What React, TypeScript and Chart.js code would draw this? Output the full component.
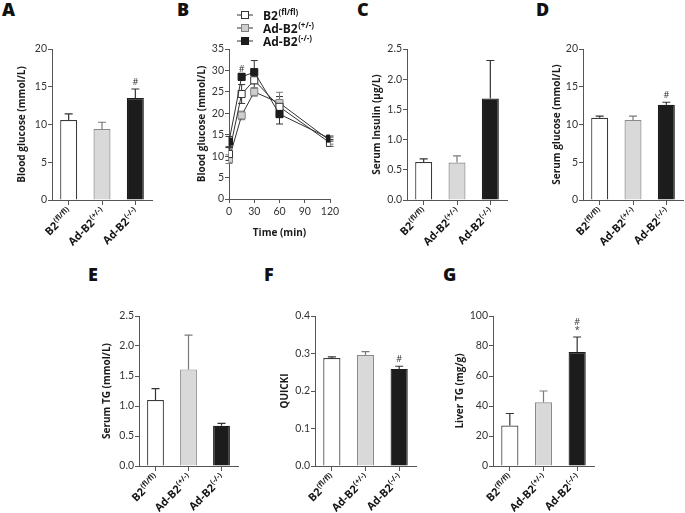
import React, { useEffect, useRef } from 'react';
import { Chart, registerables } from 'chart.js';
Chart.register(...registerables);

// ---------- data ----------
const groupNames = ['B2', 'Ad-B2', 'Ad-B2'];
const groupSups = ['(fl/fl)', '(+/-)', '(-/-)'];

const bloodGlucose = [10.6, 9.4, 13.5];
const bloodGlucoseErr = [0.8, 0.9, 1.2];
const serumInsulin = [0.63, 0.62, 1.68];
const serumInsulinErr = [0.05, 0.11, 0.63];
const serumGlucose = [10.9, 10.6, 12.6];
const serumGlucoseErr = [0.2, 0.5, 0.35];
const serumTG = [1.10, 1.61, 0.67];
const serumTGErr = [0.19, 0.57, 0.04];
const quicki = [0.288, 0.296, 0.259];
const quickiErr = [0.003, 0.009, 0.007];
const liverTG = [27, 42.5, 76];
const liverTGErr = [8, 7.5, 10];

const timePoints = [0, 15, 30, 60, 120];
const gttFlfl = [10.5, 24.5, 27.7, 21.5, 13.1];
const gttFlflErr = [1.5, 2.2, 2.0, 2.4, 0.8];
const gttHet = [9.3, 19.5, 25.0, 22.4, 13.6];
const gttHetErr = [1.0, 1.0, 1.0, 2.5, 0.8];
const gttKo = [13.4, 28.5, 29.6, 19.8, 14.1];
const gttKoErr = [1.2, 0.8, 2.7, 2.3, 0.6];
const gttTimeTicks = [0, 30, 60, 90, 120];

// ---------- style ----------
const FILLS = ['#ffffff', '#d9d9d9', '#1c1c1c'];
const EDGES = ['#3a3a3a', '#8a8a8a', '#1c1c1c'];
const AXIS = '#555555';
const TICKFONT = { family: 'Lato', size: 10.5 };
const BOLDFAM = '"Open Sans"';
const TITLEFONT = { family: 'Open Sans', weight: 'bold', size: 10 };

const YW = 55;

function measureSup(ctx: CanvasRenderingContext2D, main: string, sup: string, size: number, supSize: number) {
  ctx.font = `bold ${size}px ${BOLDFAM}`;
  const w1 = ctx.measureText(main).width;
  ctx.font = `bold ${supSize}px ${BOLDFAM}`;
  const w2 = ctx.measureText(sup).width;
  return { w1, w2 };
}

const xLabelPlugin = {
  id: 'xLabels',
  afterDraw(chart: any) {
    const { ctx, chartArea, scales } = chart;
    const xs = scales.x;
    groupNames.forEach((g, i) => {
      const x = xs.getPixelForValue(i);
      const y = chartArea.bottom + 13;
      ctx.save();
      ctx.translate(x + 4, y);
      ctx.rotate(-Math.PI / 4);
      const { w1, w2 } = measureSup(ctx, g, groupSups[i], 11, 7.5);
      ctx.fillStyle = '#151515';
      ctx.textAlign = 'left';
      ctx.textBaseline = 'alphabetic';
      ctx.font = `bold 11px ${BOLDFAM}`;
      ctx.fillText(g, -(w1 + w2 + 0.5), 0);
      ctx.font = `bold 7.5px ${BOLDFAM}`;
      ctx.fillText(groupSups[i], -w2, -4.5);
      ctx.restore();
    });
  },
};

const barErrorPlugin = {
  id: 'barErrors',
  afterDatasetsDraw(chart: any, _args: any, opts: any) {
    const { ctx, scales } = chart;
    const meta = chart.getDatasetMeta(0);
    const vals: number[] = opts.values;
    const errs: number[] = opts.errors;
    const marks: string[][] = opts.marks || [];
    meta.data.forEach((el: any, i: number) => {
      const top = scales.y.getPixelForValue(vals[i] + errs[i]);
      ctx.save();
      ctx.strokeStyle = i === 1 ? '#7a7a7a' : '#333';
      ctx.lineWidth = 1.2;
      ctx.beginPath();
      ctx.moveTo(el.x, el.y);
      ctx.lineTo(el.x, top);
      ctx.moveTo(el.x - 4, top);
      ctx.lineTo(el.x + 4, top);
      ctx.stroke();
      const m = marks[i] || [];
      ctx.fillStyle = '#333';
      ctx.textAlign = 'center';
      ctx.textBaseline = 'middle';
      ctx.font = `9px ${BOLDFAM}`;
      m.forEach((s, k) => {
        ctx.fillText(s, el.x, top - 6.5 - k * 8.5);
      });
      ctx.restore();
    });
  },
};

type BarPanelProps = {
  area: [number, number, number, number];
  values: number[];
  errors: number[];
  max: number;
  step: number;
  decimals: number;
  title: string;
  titleOffset: number;
  marks?: string[][];
};

function BarPanel(p: BarPanelProps) {
  const ref = useRef<HTMLCanvasElement>(null);
  const [l, t, r, b] = p.area;
  const padTop = 10;
  const padRight = 6;
  const XH = 70;
  const width = r - l + YW + padRight;
  const height = b - t + padTop + XH;
  useEffect(() => {
    const chart = new Chart(ref.current!, {
      type: 'bar',
      data: {
        labels: groupNames.map((g, i) => g + groupSups[i]),
        datasets: [
          {
            data: p.values,
            backgroundColor: FILLS,
            borderColor: EDGES,
            borderWidth: 1.2,
            barPercentage: 0.85,
            categoryPercentage: 0.6,
          },
        ],
      },
      options: {
        responsive: false,
        animation: false,
        devicePixelRatio: 1,
        layout: { padding: { top: padTop, right: padRight, left: 0, bottom: 0 } },
        plugins: {
          legend: { display: false },
          tooltip: { enabled: false },
          barErrors: { values: p.values, errors: p.errors, marks: p.marks || [] },
        } as any,
        scales: {
          x: {
            type: 'category',
            offset: true,
            grid: { display: true, drawOnChartArea: false, drawTicks: true, tickLength: 5, color: AXIS, offset: false },
            border: { display: true, color: AXIS, width: 1 },
            ticks: { display: false },
            afterFit: (s: any) => { s.height = XH; },
          },
          y: {
            min: 0,
            max: p.max,
            grid: { display: true, drawOnChartArea: false, drawTicks: true, tickLength: 4, color: AXIS },
            border: { display: true, color: AXIS, width: 1 },
            ticks: {
              stepSize: p.step,
              padding: 1,
              color: '#333',
              font: TICKFONT,
              callback: (v: any) => Number(v).toFixed(p.decimals),
            },
            title: {
              display: true,
              text: p.title,
              color: '#1a1a1a',
              font: TITLEFONT,
              padding: { top: YW - p.titleOffset - 6, bottom: 0 },
            },
            afterFit: (s: any) => { s.width = YW; },
          },
        },
      } as any,
      plugins: [barErrorPlugin, xLabelPlugin],
    });
    return () => chart.destroy();
  }, []);
  return (
    <canvas
      ref={ref}
      width={width}
      height={height}
      style={{ position: 'absolute', left: l - YW, top: t - padTop, width, height }}
    />
  );
}

// ---------- GTT panel ----------
const gttSeries = [
  { name: 'B2', sup: '(fl/fl)', values: gttFlfl, errors: gttFlflErr, fill: '#ffffff', edge: '#333333' },
  { name: 'Ad-B2', sup: '(+/-)', values: gttHet, errors: gttHetErr, fill: '#cfcfcf', edge: '#808080' },
  { name: 'Ad-B2', sup: '(-/-)', values: gttKo, errors: gttKoErr, fill: '#1c1c1c', edge: '#1c1c1c' },
];

const gttErrorPlugin = {
  id: 'gttErrors',
  beforeDatasetsDraw(chart: any) {
    const { ctx, scales } = chart;
    gttSeries.forEach((s) => {
      s.values.forEach((v, i) => {
        const x = scales.x.getPixelForValue(timePoints[i]);
        const y1 = scales.y.getPixelForValue(v + s.errors[i]);
        const y2 = scales.y.getPixelForValue(v - s.errors[i]);
        ctx.save();
        ctx.strokeStyle = s.edge === '#808080' ? '#777' : '#333';
        ctx.lineWidth = 1;
        ctx.beginPath();
        ctx.moveTo(x, y1);
        ctx.lineTo(x, y2);
        ctx.moveTo(x - 3.5, y1);
        ctx.lineTo(x + 3.5, y1);
        ctx.moveTo(x - 3.5, y2);
        ctx.lineTo(x + 3.5, y2);
        ctx.stroke();
        ctx.restore();
      });
    });
  },
  afterDraw(chart: any) {
    const { ctx, scales, chartArea } = chart;
    const x = scales.x.getPixelForValue(15);
    const y = scales.y.getPixelForValue(gttKo[1] + gttKoErr[1]) - 4;
    ctx.save();
    ctx.fillStyle = '#333';
    ctx.textAlign = 'center';
    ctx.textBaseline = 'middle';
    ctx.font = `9px ${BOLDFAM}`;
    ctx.fillText('#', x, y);
    // legend
    const rows = [15, 28, 41];
    gttSeries.forEach((s, i) => {
      const yy = rows[i];
      const x0 = chartArea.left + 8;
      ctx.strokeStyle = '#333';
      ctx.lineWidth = 1;
      ctx.beginPath();
      ctx.moveTo(x0, yy);
      ctx.lineTo(x0 + 16, yy);
      ctx.stroke();
      ctx.fillStyle = s.fill;
      ctx.strokeStyle = s.edge;
      ctx.fillRect(x0 + 4.5, yy - 3.5, 7, 7);
      ctx.strokeRect(x0 + 4.5, yy - 3.5, 7, 7);
      const tx = chartArea.left + 34;
      const { w1 } = measureSup(ctx, s.name, s.sup, 12, 8);
      ctx.fillStyle = '#151515';
      ctx.textAlign = 'left';
      ctx.textBaseline = 'alphabetic';
      ctx.font = `bold 12px ${BOLDFAM}`;
      ctx.fillText(s.name, tx, yy + 4.5);
      ctx.font = `bold 8px ${BOLDFAM}`;
      ctx.fillText(s.sup, tx + w1 + 0.5, yy - 0.5);
    });
    ctx.restore();
  },
};

function GttPanel() {
  const ref = useRef<HTMLCanvasElement>(null);
  const [l, t, r, b] = [229, 49, 330, 199];
  const padTop = 49;
  const padRight = 14;
  const XH = 45;
  const width = r - l + YW + padRight;
  const height = b - t + padTop + XH;
  useEffect(() => {
    const order = [1, 0, 2];
    const chart = new Chart(ref.current!, {
      type: 'line',
      data: {
        datasets: order.map((k) => {
          const s = gttSeries[k];
          return {
            label: s.name + s.sup,
            data: s.values.map((v, i) => ({ x: timePoints[i], y: v })),
            borderColor: '#333',
            borderWidth: 1,
            pointStyle: 'rect',
            pointRadius: 5,
            pointBackgroundColor: s.fill,
            pointBorderColor: s.edge,
            pointBorderWidth: 1,
            tension: 0,
            order: k === 2 ? 0 : k === 0 ? 1 : 2,
          };
        }),
      },
      options: {
        responsive: false,
        animation: false,
        devicePixelRatio: 1,
        layout: { padding: { top: padTop, right: padRight, left: 0, bottom: 0 } },
        plugins: { legend: { display: false }, tooltip: { enabled: false } },
        scales: {
          x: {
            type: 'linear',
            min: 0,
            max: 120,
            afterBuildTicks: (s: any) => { s.ticks = gttTimeTicks.map((v) => ({ value: v })); },
            grid: { display: true, drawOnChartArea: false, drawTicks: true, tickLength: 4, color: AXIS },
            border: { display: true, color: AXIS, width: 1 },
            ticks: { color: '#333', font: TICKFONT, padding: 2, maxRotation: 0 },
            title: {
              display: true,
              text: 'Time (min)',
              color: '#1a1a1a',
              font: TITLEFONT,
              padding: { top: 0, bottom: 5 },
            },
            afterFit: (s: any) => { s.height = XH; },
          },
          y: {
            min: 0,
            max: 35,
            grid: { display: true, drawOnChartArea: false, drawTicks: true, tickLength: 4, color: AXIS },
            border: { display: true, color: AXIS, width: 1 },
            ticks: { stepSize: 5, padding: 1, color: '#333', font: TICKFONT },
            title: {
              display: true,
              text: 'Blood glucose (mmol/L)',
              color: '#1a1a1a',
              font: TITLEFONT,
              padding: { top: YW - 27 - 6, bottom: 0 },
            },
            afterFit: (s: any) => { s.width = YW; },
          },
        },
      } as any,
      plugins: [gttErrorPlugin],
    });
    return () => chart.destroy();
  }, []);
  return (
    <canvas
      ref={ref}
      width={width}
      height={height}
      style={{ position: 'absolute', left: l - YW, top: t - padTop, width, height }}
    />
  );
}

const letterStyle = (left: number, top: number): React.CSSProperties => ({
  position: 'absolute',
  left,
  top,
  fontFamily: 'Open Sans',
  fontWeight: 800,
  fontSize: 18,
  lineHeight: '18px',
  color: '#111',
});

export default function App() {
  return (
    <div style={{ position: 'absolute', left: 0, top: 0, width: 685, height: 513, overflow: 'hidden', background: '#fff' }}>
      <div style={letterStyle(2, 0)}>A</div>
      <div style={letterStyle(177, 0)}>B</div>
      <div style={letterStyle(357, 0)}>C</div>
      <div style={letterStyle(536, 0)}>D</div>
      <div style={letterStyle(88, 265)}>E</div>
      <div style={letterStyle(264, 265)}>F</div>
      <div style={letterStyle(443, 265)}>G</div>

      <BarPanel area={[52, 49, 152, 200]} values={bloodGlucose} errors={bloodGlucoseErr} max={20} step={5} decimals={0}
        title="Blood glucose (mmol/L)" titleOffset={30} marks={[[], [], ['#']]} />
      <GttPanel />
      <BarPanel area={[407, 49, 507, 200]} values={serumInsulin} errors={serumInsulinErr} max={2.5} step={0.5} decimals={1}
        title="Serum Insulin (μg/L)" titleOffset={30} />
      <BarPanel area={[583, 49, 683, 200]} values={serumGlucose} errors={serumGlucoseErr} max={20} step={5} decimals={0}
        title="Serum glucose (mmol/L)" titleOffset={26} marks={[[], [], ['#']]} />
      <BarPanel area={[139, 316, 238, 466]} values={serumTG} errors={serumTGErr} max={2.5} step={0.5} decimals={1}
        title="Serum TG (mmol/L)" titleOffset={32} />
      <BarPanel area={[315, 316, 416, 466]} values={quicki} errors={quickiErr} max={0.4} step={0.1} decimals={1}
        title="QUICKI" titleOffset={30} marks={[[], [], ['#']]} />
      <BarPanel area={[493, 316, 594, 466]} values={liverTG} errors={liverTGErr} max={100} step={20} decimals={0}
        title="Liver TG (mg/g)" titleOffset={33} marks={[[], [], ['*', '#']]} />
    </div>
  );
}
